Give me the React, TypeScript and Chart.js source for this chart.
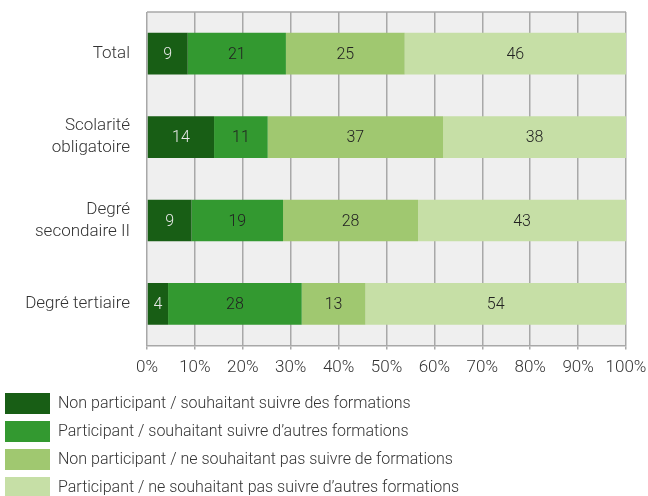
import React, { useEffect, useRef } from 'react';
import { Chart, registerables } from 'chart.js';

Chart.register(...registerables);

const categories: string[][] = [['Total'], ['Scolarité', 'obligatoire'], ['Degré', 'secondaire II'], ['Degré tertiaire']];
const seriesNames = [
  'Non participant / souhaitant suivre des formations',
  'Participant / souhaitant suivre d\u2019autres formations',
  'Non participant / ne souhaitant pas suivre de formations',
  'Participant / ne souhaitant pas suivre d\u2019autres formations',
];
const nonPartSouhait = [8.5, 14.0, 9.3, 4.4];
const partSouhait = [20.5, 11.2, 19.1, 27.9];
const nonPartNe = [24.8, 36.6, 28.2, 13.3];
const partNe = [46.2, 38.2, 43.4, 54.4];
const xTicks = [0, 10, 20, 30, 40, 50, 60, 70, 80, 90, 100];

const colors = ['#185e15', '#339930', '#a0c870', '#c6dfa6'];
const labelColors = ['#e8e8e8', '#222222', '#222222', '#222222'];
const FONT = 'Roboto';

const bgPlugin = {
  id: 'bgPlugin',
  beforeDraw(chart: any) {
    const { ctx, chartArea } = chart;
    ctx.save();
    ctx.fillStyle = '#efefef';
    ctx.fillRect(chartArea.left, chartArea.top, chartArea.right - chartArea.left, chartArea.bottom - chartArea.top);
    ctx.restore();
  },
  beforeDatasetsDraw(chart: any) {
    const { ctx, chartArea } = chart;
    ctx.save();
    ctx.strokeStyle = '#a8a8a8';
    ctx.lineWidth = 1.5;
    ctx.beginPath();
    ctx.moveTo(chartArea.left, chartArea.top);
    ctx.lineTo(chartArea.right, chartArea.top);
    ctx.stroke();
    ctx.restore();
  },
};

const valueLabels = {
  id: 'valueLabels',
  afterDatasetsDraw(chart: any) {
    const { ctx } = chart;
    ctx.save();
    ctx.font = `300 16px ${FONT}`;
    ctx.textAlign = 'center';
    ctx.textBaseline = 'middle';
    chart.data.datasets.forEach((ds: any, di: number) => {
      const meta = chart.getDatasetMeta(di);
      meta.data.forEach((el: any, i: number) => {
        const v = ds.data[i];
        const cx = (el.x + el.base) / 2;
        ctx.fillStyle = labelColors[di];
        ctx.fillText(String(Math.round(v)), cx, el.y + 1);
      });
    });
    ctx.restore();
  },
};

export default function App() {
  const ref = useRef<HTMLCanvasElement | null>(null);
  useEffect(() => {
    document.body.style.margin = '0';
    document.body.style.overflow = 'hidden';
    const canvas = ref.current!;
    const seriesData = [nonPartSouhait, partSouhait, nonPartNe, partNe];
    const chart = new Chart(canvas, {
      type: 'bar',
      data: {
        labels: categories as any,
        datasets: seriesData.map((d, i) => ({
          label: seriesNames[i],
          data: d,
          backgroundColor: colors[i],
          borderWidth: 0,
          barPercentage: 0.5,
          categoryPercentage: 1.0,
        })),
      },
      options: {
        indexAxis: 'y',
        responsive: false,
        animation: false,
        layout: { padding: { left: -2, top: 12, right: 0, bottom: 0 } },
        scales: {
          x: {
            stacked: true,
            min: 0,
            max: 100,
            afterBuildTicks(scale: any) {
              scale.ticks = xTicks.map((v) => ({ value: v }));
            },
            afterFit(scale: any) {
              scale.paddingRight = 22;
              scale.paddingLeft = 0;
            },
            ticks: {
              callback: (v: any) => v + '%',
              color: '#333',
              font: { family: FONT, size: 17, weight: '300' as any },
              padding: 8,
              maxRotation: 0,
            },
            grid: { color: '#a8a8a8', lineWidth: 1.5, tickLength: 4, drawTicks: true },
            border: { color: '#a8a8a8', width: 1.5 },
          },
          y: {
            stacked: true,
            afterFit(scale: any) {
              scale.width = 149;
              scale.paddingTop = 0;
              scale.paddingBottom = 0;
            },
            ticks: {
              color: '#333',
              font: { family: FONT, size: 17, weight: '300' as any, lineHeight: 1.3 },
              padding: 17,
            },
            grid: { display: false, drawTicks: false },
            border: { display: false },
          },
        },
        plugins: {
          legend: {
            position: 'bottom',
            align: 'start',
            labels: {
              boxWidth: 45,
              boxHeight: 21,
              padding: 7,
              color: '#333',
              font: { family: FONT, size: 16, weight: '300' as any },
            },
          },
          tooltip: { enabled: false },
        },
      },
      plugins: [bgPlugin, valueLabels],
    });
    return () => chart.destroy();
  }, []);
  return <canvas ref={ref} width={648} height={508} style={{ display: 'block' }} />;
}
